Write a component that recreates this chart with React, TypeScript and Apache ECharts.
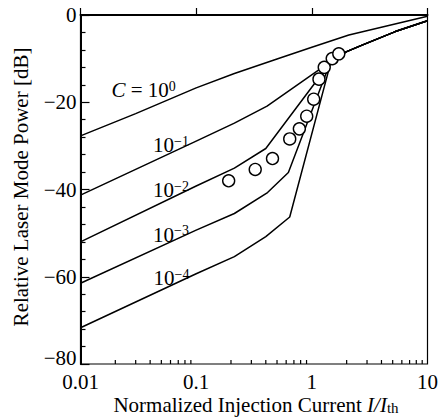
import React, { useEffect, useRef } from "react";
import * as echarts from "echarts";

// Curves: C = 10^0 ... 10^-4
const xC0 = [0.01, 0.03, 0.1, 0.214, 0.5, 1, 2.09, 10];
const yC0 = [-27.7, -22.6, -16.7, -13.4, -10.1, -7.4, -4.6, -0.3];

const xC1 = [0.01, 0.1, 0.214, 0.41, 1.27, 1.5, 2, 2.72, 5.27, 10];
const yC1 = [-41.3, -28.9, -24.8, -20.9, -11.8, -10.0, -8.4, -6.9, -3.8, -1.3];

const xC2 = [0.01, 0.1, 0.214, 0.4, 1.5, 2, 2.72, 5.27, 10];
const yC2 = [-52.0, -39.2, -35.1, -30.6, -10.3, -8.4, -6.9, -3.8, -1.3];

const xC3 = [0.01, 0.1, 0.214, 0.414, 0.627, 1.45, 2, 2.72, 5.27, 10];
const yC3 = [-61.5, -49.3, -45.5, -40.7, -36.1, -10.7, -8.4, -6.9, -3.8, -1.3];

const xC4 = [0.01, 0.1, 0.214, 0.4, 0.644, 1.45, 2, 2.72, 5.27, 10];
const yC4 = [-71.7, -59.3, -55.4, -50.8, -46.3, -11.1, -8.4, -6.9, -3.8, -1.3];

// Measured points (circles)
const xMeas = [0.191, 0.324, 0.457, 0.644, 0.78, 0.903, 1.038, 1.153, 1.28, 1.5, 1.71];
const yMeas = [-38.0, -35.4, -32.9, -28.4, -26.1, -23.2, -19.3, -14.7, -12.0, -10.0, -8.9];

// Axis ticks / labels
const xTickLabels = ["0.01", "0.1", "1", "10"];
const xMinorTicks = [
  0.02, 0.03, 0.04, 0.05, 0.06, 0.07, 0.08, 0.09,
  0.2, 0.3, 0.4, 0.5, 0.6, 0.7, 0.8, 0.9,
  2, 3, 4, 5, 6, 7, 8, 9,
];

const curveLabels = ["{i|C} = 10{s|0}", "10{s|−1}", "10{s|−2}", "10{s|−3}", "10{s|−4}"];

const FONT = "'Liberation Serif', 'Times New Roman', serif";
const FS = 21;

const zip = (xs: number[], ys: number[]) => xs.map((x, i) => [x, ys[i]]);

export default function App() {
  const ref = useRef<HTMLDivElement>(null);

  useEffect(() => {
    document.body.style.margin = "0";
    if (!ref.current) return;
    const chart = echarts.init(ref.current, null, { renderer: "svg" });

    const lineSeries = [
      [xC0, yC0],
      [xC1, yC1],
      [xC2, yC2],
      [xC3, yC3],
      [xC4, yC4],
    ].map(([xs, ys]) => ({
      type: "line",
      data: zip(xs as number[], ys as number[]),
      showSymbol: false,
      symbol: "none",
      lineStyle: { color: "#000", width: 1.5 },
      z: 2,
    }));

    const labelPos = [
      [111.5, 90],
      [153, 145],
      [153, 190],
      [153, 234.5],
      [153.5, 278],
    ];

    const richSup = {
      i: { fontStyle: "italic", fontFamily: FONT, fontSize: FS, lineHeight: 22, fill: "#000" },
      s: { fontFamily: FONT, fontSize: 14, lineHeight: 9, verticalAlign: "top", fill: "#000" },
    };

    const graphics: any[] = curveLabels.map((t, i) => ({
      type: "text",
      x: labelPos[i][0],
      y: labelPos[i][1],
      z: 10,
      style: {
        text: t,
        fontFamily: FONT,
        fontSize: FS,
        lineHeight: 22,
        fill: "#000",
        align: "left",
        verticalAlign: "middle",
        rich: richSup,
      },
    }));

    graphics.push({
      type: "text",
      x: 21,
      y: 187,
      rotation: Math.PI / 2,
      style: {
        text: "Relative Laser Mode Power [dB]",
        fontFamily: FONT,
        fontSize: FS,
        fill: "#000",
        align: "center",
        verticalAlign: "middle",
      },
    });

    graphics.push({
      type: "text",
      x: 256,
      y: 404.5,
      style: {
        text: "Normalized Injection Current {i|I/I}{s|th}",
        fontFamily: FONT,
        fontSize: FS,
        lineHeight: 22,
        fill: "#000",
        align: "center",
        verticalAlign: "middle",
        rich: {
          i: { fontStyle: "italic", fontFamily: FONT, fontSize: FS, lineHeight: 22, fill: "#000" },
          s: { fontFamily: FONT, fontSize: 15, lineHeight: 12, verticalAlign: "bottom", fill: "#000" },
        },
      },
    });

    chart.setOption({
      animation: false,
      grid: {
        left: 80.5,
        right: 12,
        top: 15,
        bottom: 56,
        show: true,
        borderColor: "#000",
        borderWidth: 1.2,
        backgroundColor: "transparent",
      },
      xAxis: {
        type: "log",
        logBase: 10,
        min: 0.01,
        max: 10,
        axisLine: { show: true, lineStyle: { color: "#000", width: 2 } },
        axisTick: { show: true, inside: true, length: 7, lineStyle: { color: "#000", width: 1.2 } },
        minorTick: { show: false },
        splitLine: { show: false },
        axisLabel: {
          color: "#000",
          fontFamily: FONT,
          fontSize: FS,
          lineHeight: 15,
          margin: 10,
          formatter: (v: number) => xTickLabels[Math.round(Math.log10(v)) + 2] ?? "",
        },
      },
      yAxis: {
        type: "value",
        min: -80,
        max: 0,
        interval: 20,
        axisLine: { show: true, lineStyle: { color: "#000", width: 2 } },
        axisTick: { show: true, inside: true, length: 9, lineStyle: { color: "#000", width: 1.2 } },
        minorTick: { show: true, splitNumber: 5, length: 5, lineStyle: { color: "#000", width: 1.2 } },
        splitLine: { show: false },
        minorSplitLine: { show: false },
        axisLabel: {
          color: "#000",
          fontFamily: FONT,
          fontSize: FS,
          lineHeight: 15,
          margin: 4,
          formatter: (v: number) => {
            const t = v < 0 ? "−" + Math.abs(v) : String(v);
            return v === -80 ? "{low|" + t + "}" : t;
          },
          rich: {
            low: {
              fontFamily: FONT,
              fontSize: FS,
              color: "#000",
              lineHeight: 15,
              padding: [0, 0, 12, 0],
            },
          },
        },
      },
      series: [
        ...lineSeries,
        {
          type: "custom",
          data: xMinorTicks.map((v) => [v, -80]),
          encode: { x: 0, y: 1 },
          z: 3,
          renderItem: (params: any, api: any) => {
            const p = api.coord([api.value(0), api.value(1)]);
            return {
              type: "line",
              shape: { x1: p[0], y1: p[1], x2: p[0], y2: p[1] - 4 },
              style: { stroke: "#000", lineWidth: 1.2 },
            };
          },
        },
        {
          type: "scatter",
          data: zip(xMeas, yMeas),
          symbol: "circle",
          symbolSize: 12,
          itemStyle: { color: "#fff", borderColor: "#000", borderWidth: 1.4, opacity: 1 },
          z: 5,
        },
      ],
      graphic: graphics,
    });

    return () => chart.dispose();
  }, []);

  return <div ref={ref} style={{ width: 441, height: 420 }} />;
}
